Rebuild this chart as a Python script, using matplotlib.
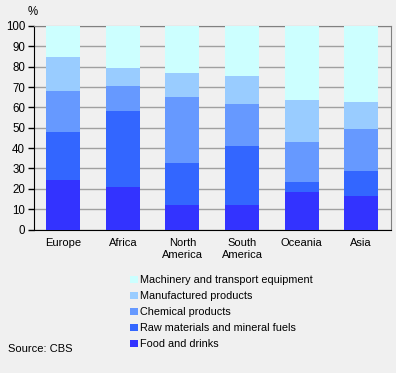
import matplotlib.pyplot as plt
from matplotlib.patches import Patch

plt.rcParams['font.family'] = ['Liberation Sans', 'DejaVu Sans']

regions = ['Europe', 'Africa', 'North\nAmerica', 'South\nAmerica', 'Oceania', 'Asia']
# shares per product group (%)
food = [24.3, 20.8, 12.0, 12.0, 18.4, 16.4]
raw = [23.6, 37.4, 20.6, 29.0, 4.9, 12.3]
chem = [20.1, 12.3, 32.5, 20.6, 19.7, 20.6]
manuf = [16.8, 8.8, 11.8, 13.8, 20.6, 13.3]
mach = [15.2, 20.7, 23.1, 24.6, 36.4, 37.4]

series = [food, raw, chem, manuf, mach]
names = ['Food and drinks', 'Raw materials and mineral fuels', 'Chemical products',
         'Manufactured products', 'Machinery and transport equipment']
colors = ['#3333FF', '#3366FF', '#6699FF', '#99CCFF', '#CCFFFF']

bg = '#F0F0F0'
fs = 8
fig = plt.figure(figsize=(3.96, 3.73), dpi=100, facecolor=bg)
ax = fig.add_axes([33.5/396, 1-229.5/373, 357.5/396, 203.5/373])
ax.set_facecolor(bg)

x = list(range(len(regions)))
bottom = [0]*len(regions)
for vals, c in zip(series, colors):
    ax.bar(x, vals, width=0.57, bottom=bottom, color=c, zorder=3)
    bottom = [b+v for b, v in zip(bottom, vals)]

ax.set_xlim(-0.5, 5.5)
ax.set_ylim(0, 100)
ax.set_yticks(range(0, 101, 10))
ax.yaxis.grid(True, color='#A0A0A0', linewidth=1, zorder=0)
ax.set_xticks(x)
ax.set_xticklabels(regions, fontsize=fs, linespacing=1.3)
ax.tick_params(axis='x', length=0, pad=6)
ax.tick_params(axis='y', length=4, width=1, labelsize=fs + 0.3, pad=2)
for s in ['top', 'right']:
    ax.spines[s].set_color('#808080')
for s in ['left', 'bottom']:
    ax.spines[s].set_color('black')

fig.text(28/396, 1-12/373, '%', fontsize=fs + 0.3, va='center')
fig.text(8/396, 1-349/373, 'Source: CBS', fontsize=fs, va='center')

handles = [Patch(facecolor=c, edgecolor='none') for c in colors[::-1]]
fig.legend(handles, names[::-1], loc='upper left', bbox_to_anchor=(125/396, 1-270/373),
           frameon=False, fontsize=7.8, handlelength=0.7, handleheight=0.7,
           handletextpad=0.15, labelspacing=0.55, borderpad=0)

fig.savefig('out.png', dpi=100, facecolor=bg)
